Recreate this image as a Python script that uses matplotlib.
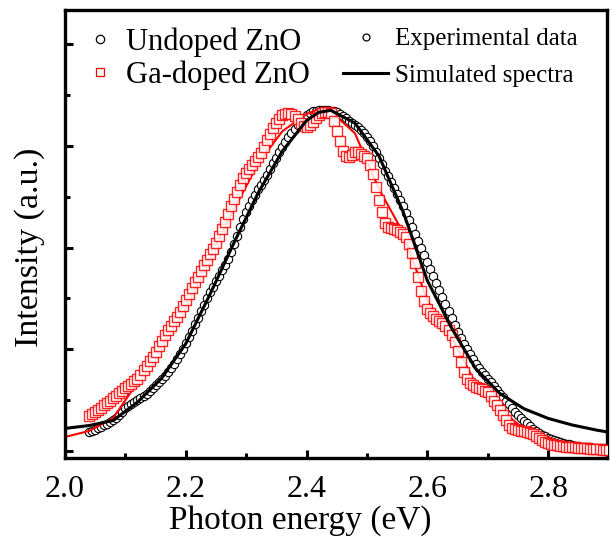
#!/usr/bin/env python3
"""
PL spectra of undoped vs Ga-doped ZnO: experimental points + simulated fits.
Writes out.png (616x537).
"""
import matplotlib
matplotlib.use("Agg")
import matplotlib.pyplot as plt
from matplotlib.lines import Line2D
from matplotlib.ticker import MultipleLocator, FormatStrFormatter

plt.rcParams["font.family"] = ["Liberation Serif", "DejaVu Serif"]

undoped_exp = [
    375, 395, 420, 445, 475, 505, 535, 570, 610, 650,
    700, 770, 835, 880, 920, 960, 1000, 1040, 1080, 1130,
    1180, 1235, 1290, 1350, 1410, 1480, 1560, 1640, 1720, 1810,
    1900, 2010, 2130, 2245, 2360, 2490, 2620, 2750, 2880, 3000,
    3120, 3230, 3340, 3440, 3550, 3660, 3780, 3920, 4070, 4230,
    4400, 4560, 4700, 4820, 4930, 5040, 5150, 5240, 5330, 5430,
    5540, 5660, 5770, 5880, 5980, 6080, 6170, 6250, 6330, 6410,
    6480, 6550, 6610, 6650, 6680, 6695, 6705, 6710, 6710, 6705,
    6695, 6680, 6660, 6630, 6590, 6545, 6500, 6460, 6420, 6370,
    6320, 6250, 6170, 6090, 6000, 5890, 5760, 5640, 5510, 5400,
    5290, 5180, 5060, 4940, 4810, 4680, 4540, 4400, 4260, 4125,
    3990, 3850, 3710, 3575, 3440, 3305, 3170, 3030, 2890, 2750,
    2610, 2470, 2340, 2220, 2110, 2000, 1900, 1810, 1720, 1640,
    1560, 1490, 1420, 1350, 1280, 1205, 1130, 1060, 990, 920,
    850, 775, 700, 645, 590, 540, 490, 440, 395, 355,
    320, 290, 260, 235, 210, 190, 175, 160, 145, 132,
    120, 107, 95, 87, 80, 75, 70, 67, 65, 62,
    60, 57, 55,
]

gadoped_exp = [
    690, 730, 770, 810, 850, 895, 940, 990, 1040, 1090,
    1140, 1185, 1230, 1275, 1320, 1370, 1420, 1500, 1590, 1675,
    1760, 1855, 1950, 2060, 2170, 2280, 2380, 2465, 2550, 2640,
    2730, 2850, 2970, 3090, 3210, 3320, 3430, 3540, 3650, 3760,
    3870, 3980, 4100, 4225, 4360, 4510, 4660, 4810, 4960, 5100,
    5240, 5360, 5470, 5550, 5620, 5700, 5780, 5870, 5980, 6110,
    6240, 6350, 6450, 6530, 6600, 6630, 6645, 6630, 6590, 6520,
    6450, 6400, 6380, 6410, 6470, 6540, 6600, 6640, 6670, 6670,
    6640, 6500, 6300, 6100, 5900, 5800, 5790, 5830, 5880, 5880,
    5850, 5810, 5760, 5630, 5450, 5200, 4940, 4700, 4480, 4410,
    4380, 4360, 4340, 4310, 4270, 4200, 4080, 3900, 3700, 3430,
    3150, 2950, 2800, 2710, 2650, 2600, 2560, 2510, 2460, 2380,
    2280, 2140, 1960, 1750, 1550, 1420, 1340, 1295, 1265, 1235,
    1210, 1180, 1150, 1080, 990, 900, 800, 700, 610, 520,
    460, 435, 420, 400, 385, 368, 350, 325, 300, 260,
    220, 180, 150, 133, 120, 110, 100, 92, 85, 80,
    75, 68, 62, 58, 55, 50, 45, 40, 35, 31,
    28, 25, 22,
]

E_und = [round(2.04 + 0.005 * i, 3) for i in range(len(undoped_exp))]
E_ga = [round(2.04 + 0.005 * i, 3) for i in range(len(gadoped_exp))]

# ---- simulated spectra ----
E_sim = [2.00, 2.04, 2.08, 2.12, 2.16, 2.20, 2.24, 2.28, 2.32, 2.36,
         2.40, 2.42, 2.44, 2.48, 2.52, 2.56, 2.60, 2.64, 2.68, 2.72,
         2.76, 2.80, 2.84, 2.88, 2.90]
undoped_sim = [443, 500, 600, 960, 1430, 2110, 3080, 4100, 5080, 5900,
               6500, 6660, 6700, 6450, 5800, 4700, 3350, 2420, 1620, 1130,
               830, 640, 510, 410, 370]
gadoped_sim = [275, 393, 649, 1350, 2050, 2850, 3810, 4760, 5660, 6290,
               6630, 6720, 6680, 6250, 5150, 4290, 2950, 2250, 1320, 820,
               430, 200, 100, 50, 30]

fig = plt.figure(figsize=(6.16, 5.37), dpi=100)
ax = fig.add_axes([0.1055, 0.147, 0.8795, 0.834])

ax.plot(E_und, undoped_exp, ls="none", marker="o", ms=6, mfc="white",
        mec="black", mew=0.8, zorder=2)
ax.plot(E_sim, gadoped_sim, color="red", lw=1.5, zorder=2.5)
ax.plot(E_ga, gadoped_exp, ls="none", marker="s", ms=6.5, mfc="white",
        mec="red", mew=1.0, alpha=0.85, zorder=3)
ax.plot(E_sim, undoped_sim, color="black", lw=2.2, zorder=5)

ax.set_xlim(2.0, 2.897)
ax.set_ylim(-140, 8670)
ax.xaxis.set_major_locator(MultipleLocator(0.2))
ax.xaxis.set_minor_locator(MultipleLocator(0.1))
ax.yaxis.set_major_locator(MultipleLocator(2000))
ax.yaxis.set_minor_locator(MultipleLocator(1000))
ax.xaxis.set_major_formatter(FormatStrFormatter("%.1f"))
ax.set_yticklabels([])
ax.tick_params(which="both", direction="in", width=2.2, top=False, right=False)
ax.tick_params(which="major", length=6, labelsize=23, pad=12)
ax.tick_params(which="minor", length=3.5)
for s in ax.spines.values():
    s.set_linewidth(2.4)

ax.set_xlabel("Photon energy (eV)", fontsize=24)
ax.xaxis.set_label_coords(0.434, -0.105)
ax.set_ylabel("Intensity (a.u.)", fontsize=24.5)
ax.yaxis.set_label_coords(-0.036, 0.47)

# sample legend (upper left)
h_samples = [
    Line2D([0], [0], ls="none", marker="o", ms=6, mfc="white", mec="black", mew=0.9),
    Line2D([0], [0], ls="none", marker="s", ms=6, mfc="white", mec="red", mew=0.9),
]
leg1 = ax.legend(h_samples, ["Undoped ZnO", "Ga-doped ZnO"], loc="upper left",
                 bbox_to_anchor=(-0.008, 1.016), frameon=False, fontsize=22,
                 handlelength=1.0, handletextpad=0.35, labelspacing=0.1,
                 borderpad=0.3)
ax.add_artist(leg1)

# style legend (upper right)
h_style = [
    Line2D([0], [0], ls="none", marker="o", ms=5, mfc="white", mec="black", mew=0.9),
    Line2D([0], [0], color="black", lw=2.2),
]
ax.legend(h_style, ["Experimental data", "Simulated spectra"], loc="upper left",
          bbox_to_anchor=(0.477, 1.005), frameon=False, fontsize=18,
          handlelength=1.8, handletextpad=0.28, labelspacing=0.57,
          borderpad=0.3)

fig.savefig("out.png", dpi=100)
print("wrote out.png")
